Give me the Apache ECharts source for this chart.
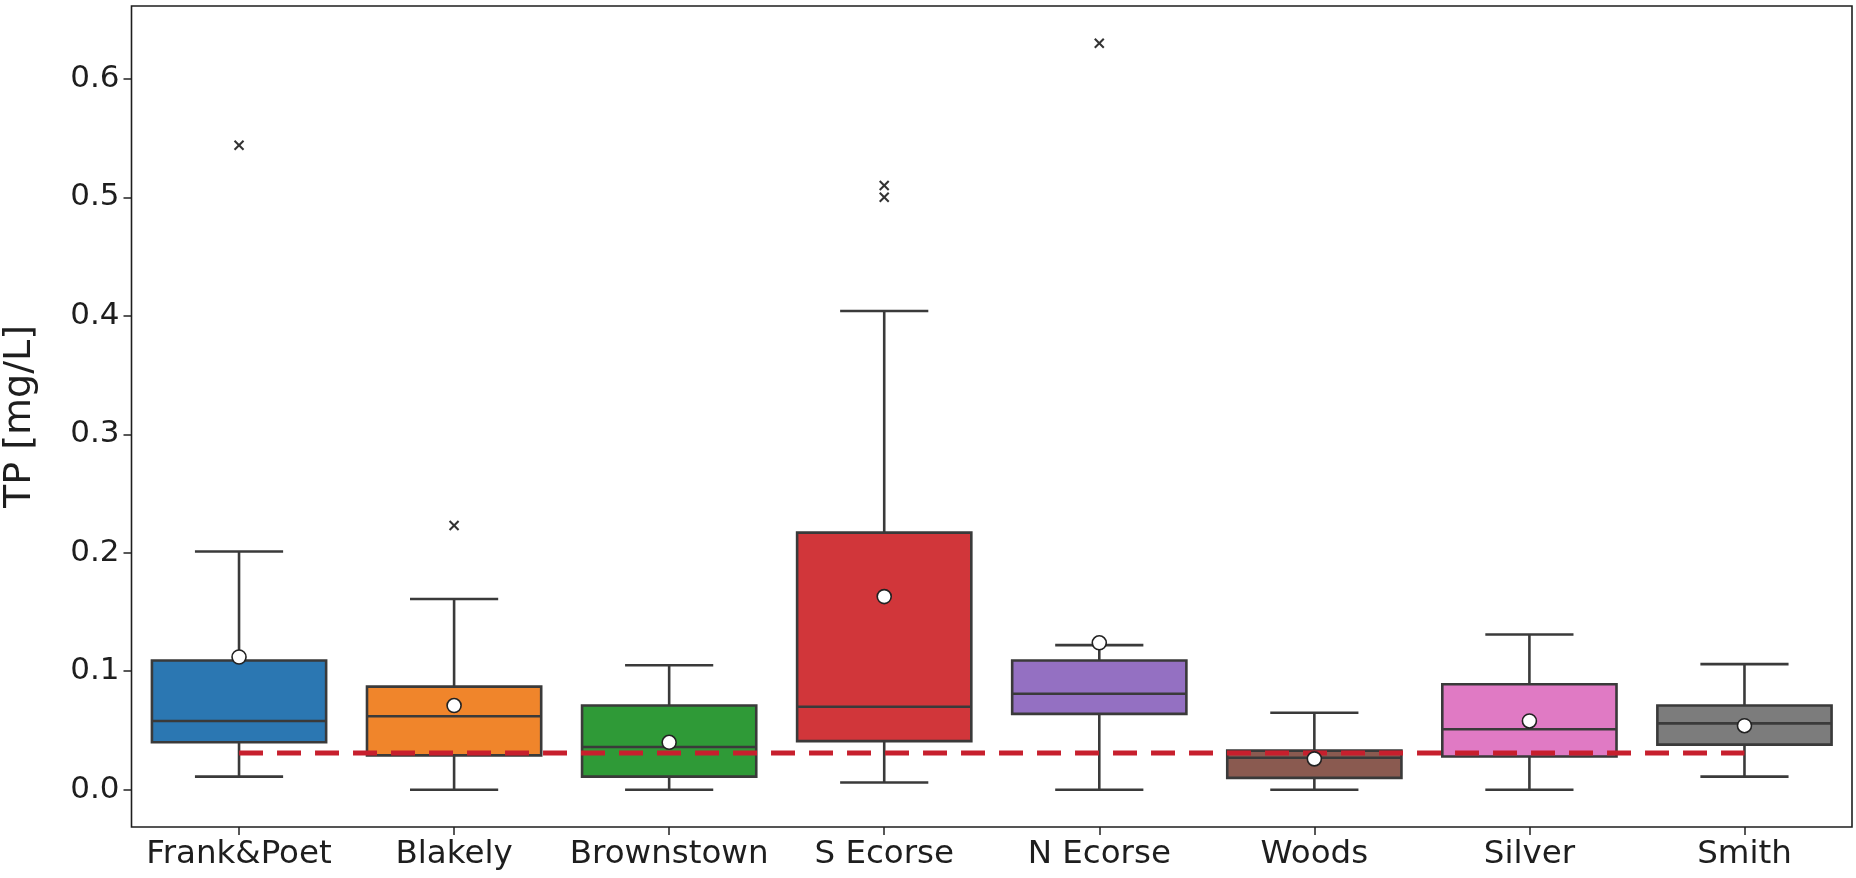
<!DOCTYPE html>
<html>
<head>
<meta charset="utf-8">
<title>TP by site</title>
<script src="https://cdn.jsdelivr.net/npm/echarts@6/dist/echarts.min.js"></script>
<style>
  html, body { margin: 0; padding: 0; background: #ffffff; }
  #chart { width: 1856px; height: 878px; }
</style>
</head>
<body>
<div id="chart"></div>
<script>
// Sites along the x axis
const categories = ['Frank&Poet', 'Blakely', 'Brownstown', 'S Ecorse', 'N Ecorse', 'Woods', 'Silver', 'Smith'];

// Box-plot statistics per site (mg/L)
const whiskerLow  = [0.011, 0.000, 0.000, 0.006, 0.000, 0.000, 0.000, 0.011];
const quartile1   = [0.040, 0.029, 0.011, 0.041, 0.064, 0.010, 0.028, 0.038];
const medians     = [0.058, 0.062, 0.036, 0.070, 0.081, 0.027, 0.051, 0.056];
const quartile3   = [0.109, 0.087, 0.071, 0.217, 0.109, 0.033, 0.089, 0.071];
const whiskerHigh = [0.201, 0.161, 0.105, 0.404, 0.122, 0.065, 0.131, 0.106];
const means       = [0.112, 0.071, 0.040, 0.163, 0.124, 0.026, 0.058, 0.054];

// Outliers as [site index, value]
const outliers = [[0, 0.544], [1, 0.223], [3, 0.510], [3, 0.500], [4, 0.630]];

// Reference threshold drawn as a dashed line
const threshold = 0.031;

// Y tick labels
const yTicks = [0.0, 0.1, 0.2, 0.3, 0.4, 0.5, 0.6];

const boxColors = ['#2b77b2', '#f0852b', '#2f9a37', '#d1363a', '#9470c2', '#8a5a50', '#e07ac4', '#7c7c7c'];
const edge = '#3a3a3a';
const font = 'DejaVu Sans';

const chart = echarts.init(document.getElementById('chart'), null, { renderer: 'canvas' });

const boxData = categories.map((c, i) => [i, whiskerLow[i], quartile1[i], medians[i], quartile3[i], whiskerHigh[i]]);

function renderBox(params, api) {
  const i = api.value(0);
  const band = api.size([1, 0])[0];
  const boxW = band * 0.81;
  const capW = band * 0.41;
  const pLo = api.coord([i, api.value(1)]);
  const pQ1 = api.coord([i, api.value(2)]);
  const pMed = api.coord([i, api.value(3)]);
  const pQ3 = api.coord([i, api.value(4)]);
  const pHi = api.coord([i, api.value(5)]);
  const x = pQ1[0];
  const ls = { stroke: edge, lineWidth: 2.6 };
  return {
    type: 'group',
    children: [
      { type: 'line', shape: { x1: x, y1: pQ3[1], x2: x, y2: pHi[1] }, style: ls },
      { type: 'line', shape: { x1: x, y1: pQ1[1], x2: x, y2: pLo[1] }, style: ls },
      { type: 'line', shape: { x1: x - capW / 2, y1: pHi[1], x2: x + capW / 2, y2: pHi[1] }, style: ls },
      { type: 'line', shape: { x1: x - capW / 2, y1: pLo[1], x2: x + capW / 2, y2: pLo[1] }, style: ls },
      { type: 'rect', shape: { x: x - boxW / 2, y: pQ3[1], width: boxW, height: pQ1[1] - pQ3[1] },
        style: { fill: boxColors[i], stroke: edge, lineWidth: 2.6 } },
      { type: 'line', shape: { x1: x - boxW / 2, y1: pMed[1], x2: x + boxW / 2, y2: pMed[1] }, style: ls }
    ]
  };
}

function renderCross(params, api) {
  const p = api.coord([api.value(0), api.value(1)]);
  const r = 4.5;
  const st = { stroke: '#333333', lineWidth: 2 };
  return {
    type: 'group',
    children: [
      { type: 'line', shape: { x1: p[0] - r, y1: p[1] - r, x2: p[0] + r, y2: p[1] + r }, style: st },
      { type: 'line', shape: { x1: p[0] - r, y1: p[1] + r, x2: p[0] + r, y2: p[1] - r }, style: st }
    ]
  };
}

const option = {
  backgroundColor: '#ffffff',
  animation: false,
  textStyle: { fontFamily: font },
  grid: {
    left: 131.5, right: 4, top: 6, bottom: 51,
    containLabel: false,
    outerBoundsMode: 'none',
    show: true, borderColor: '#1e1e1e', borderWidth: 1.6, backgroundColor: 'transparent'
  },
  xAxis: {
    type: 'category',
    data: categories,
    boundaryGap: true,
    axisLine: { show: false, onZero: false },
    axisTick: { show: true, alignWithLabel: true, length: 8, lineStyle: { color: '#222', width: 1.5 } },
    axisLabel: { color: '#1e1e1e', fontSize: 32.5, fontFamily: font, margin: 11, interval: 0 },
    splitLine: { show: false }
  },
  yAxis: {
    type: 'value',
    min: -0.0315,
    max: 0.6615,
    name: 'TP [mg/L]',
    nameLocation: 'middle',
    nameGap: 92,
    nameRotate: 90,
    nameTextStyle: { color: '#1e1e1e', fontSize: 38, fontFamily: font },
    axisLine: { show: false },
    axisTick: { show: true, length: 8, customValues: yTicks, lineStyle: { color: '#222', width: 1.5 } },
    axisLabel: {
      color: '#1e1e1e', fontSize: 31, fontFamily: font, margin: 12,
      customValues: yTicks,
      formatter: v => v.toFixed(1)
    },
    splitLine: { show: false }
  },
  series: [
    {
      type: 'custom',
      name: 'boxes',
      data: boxData,
      encode: { x: 0, y: [1, 2, 3, 4, 5] },
      renderItem: renderBox,
      z: 2
    },
    {
      type: 'line',
      name: 'threshold',
      data: categories.map(() => threshold),
      symbol: 'none',
      lineStyle: { color: '#c71f2d', width: 5, type: [24, 14] },
      z: 3
    },
    {
      type: 'scatter',
      name: 'mean',
      data: categories.map((c, i) => [i, means[i]]),
      symbol: 'circle',
      symbolSize: 14,
      itemStyle: { color: '#ffffff', borderColor: '#222222', borderWidth: 1.6, opacity: 1 },
      z: 5
    },
    {
      type: 'custom',
      name: 'outliers',
      data: outliers,
      encode: { x: 0, y: 1 },
      renderItem: renderCross,
      z: 5
    }
  ]
};

chart.setOption(option);
</script>
</body>
</html>
